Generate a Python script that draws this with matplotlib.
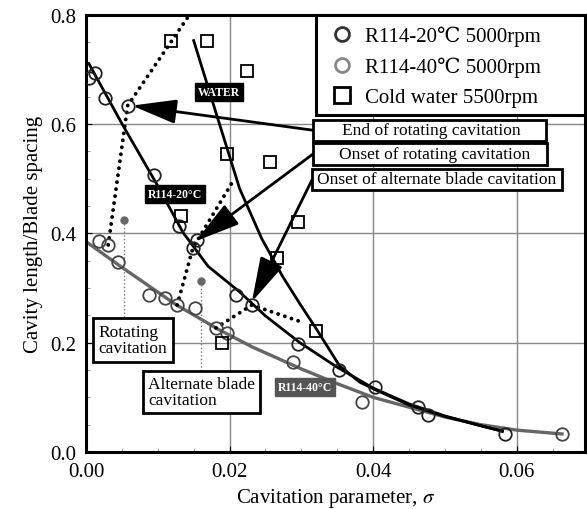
import matplotlib
matplotlib.use('Agg')
import matplotlib.pyplot as plt
from matplotlib.lines import Line2D
from matplotlib.patches import Rectangle
from matplotlib.ticker import MultipleLocator

plt.rcParams['font.family'] = ['Liberation Serif', 'DejaVu Serif', 'DejaVu Sans']
plt.rcParams['mathtext.fontset'] = 'stix'

# measured points
r20_sigma = [0.0004, 0.0013, 0.0026, 0.0058, 0.0095, 0.0129, 0.0149, 0.0154, 0.0209, 0.0231,
             0.0295, 0.0353, 0.0403, 0.0463, 0.0477, 0.0583]
r20_len = [0.685, 0.694, 0.648, 0.634, 0.507, 0.414, 0.374, 0.388, 0.288, 0.269,
           0.198, 0.150, 0.119, 0.082, 0.068, 0.033]

r40_sigma = [0.0018, 0.0031, 0.0045, 0.0088, 0.0110, 0.0127, 0.0152, 0.0181, 0.0197, 0.0289, 0.0384, 0.0663]
r40_len = [0.386, 0.379, 0.348, 0.288, 0.282, 0.269, 0.264, 0.227, 0.218, 0.165, 0.092, 0.033]

water_sigma = [0.0118, 0.0168, 0.0224, 0.0196, 0.0257, 0.0132, 0.0296, 0.0266, 0.0189, 0.0321]
water_len = [0.753, 0.753, 0.698, 0.546, 0.531, 0.432, 0.421, 0.355, 0.200, 0.222]

# fitted curves
r20_fit_sigma = [0.0004, 0.005, 0.010, 0.0135, 0.017, 0.0214, 0.025, 0.0298, 0.035, 0.040, 0.045, 0.050, 0.055, 0.058]
r20_fit_len = [0.711, 0.601, 0.487, 0.402, 0.340, 0.293, 0.249, 0.200, 0.155, 0.117, 0.088, 0.066, 0.048, 0.038]

water_fit_sigma = [0.0150, 0.0182, 0.0214, 0.0245, 0.0274, 0.0298, 0.0321, 0.0353, 0.0381, 0.0403, 0.045, 0.050, 0.055, 0.058]
water_fit_len = [0.753, 0.617, 0.482, 0.390, 0.321, 0.271, 0.225, 0.158, 0.128, 0.114, 0.086, 0.065, 0.048, 0.038]

r40_fit_sigma = [0.0, 0.005, 0.0125, 0.0185, 0.0232, 0.030, 0.035, 0.040, 0.045, 0.050, 0.055, 0.060, 0.0663]
r40_fit_len = [0.385, 0.338, 0.270, 0.224, 0.192, 0.152, 0.125, 0.100, 0.082, 0.064, 0.050, 0.040, 0.033]

# dotted transition lines
end_rot_sigma = [0.0031, 0.0058, 0.0143]
end_rot_len = [0.379, 0.634, 0.798]
onset_rot_sigma = [0.0127, 0.0149, 0.0204]
onset_rot_len = [0.269, 0.374, 0.494]
onset_alt_sigma = [0.0181, 0.0231, 0.0300]
onset_alt_len = [0.227, 0.269, 0.238]

legend_labels = ['R114-20℃ 5000rpm', 'R114-40℃ 5000rpm', 'Cold water 5500rpm']

fig = plt.figure(figsize=(5.87, 5.10), dpi=100)
ax = fig.add_axes([0.1465, 0.1118, 0.850, 0.857])

ax.set_xlim(0, 0.0695)
ax.set_ylim(0, 0.8)
ax.xaxis.set_major_locator(MultipleLocator(0.02))
ax.xaxis.set_minor_locator(MultipleLocator(0.005))
ax.yaxis.set_major_locator(MultipleLocator(0.2))
ax.yaxis.set_minor_locator(MultipleLocator(0.05))
ax.xaxis.set_major_formatter(plt.FormatStrFormatter('%.2f'))
ax.yaxis.set_major_formatter(plt.FormatStrFormatter('%.1f'))
ax.tick_params(which='both', direction='in', labelsize=15)
ax.tick_params(which='major', length=4)
ax.tick_params(axis='x', which='major', pad=7)
ax.tick_params(axis='y', which='major', pad=7)
ax.tick_params(which='minor', length=3, color='#888888')
ax.grid(True, which='major', color='#888888', lw=1)
ax.set_axisbelow(True)
for s in ax.spines.values():
    s.set_linewidth(2.2)

ax.set_xlabel('Cavitation parameter, $\\sigma$', fontsize=15, labelpad=4)
ax.set_ylabel('Cavity length/Blade spacing', fontsize=15, labelpad=5)

# curves
ax.plot(r40_fit_sigma, r40_fit_len, color='#666666', lw=2.4, zorder=2)
ax.plot(r20_fit_sigma, r20_fit_len, color='black', lw=2, zorder=2)
ax.plot(water_fit_sigma, water_fit_len, color='black', lw=2, zorder=2)

for xs, ys in [(end_rot_sigma, end_rot_len), (onset_rot_sigma, onset_rot_len), (onset_alt_sigma, onset_alt_len)]:
    ax.plot(xs, ys, color='black', lw=2.8, ls=(0, (0.01, 1.8)), dash_capstyle='round', zorder=2)

# markers
ax.plot(r20_sigma, r20_len, 'o', ms=9, mfc='none', mec='#222222', mew=1.3, zorder=3)
ax.plot(r40_sigma, r40_len, 'o', ms=9, mfc='none', mec='#444444', mew=1.3, zorder=3)
ax.plot(water_sigma, water_len, 's', ms=8, mfc='none', mec='black', mew=1.3, zorder=3)

# regime markers
ax.plot([0.0053, 0.0053], [0.425, 0.247], color='#777777', lw=1, ls=':', zorder=2)
ax.plot([0.0053], [0.425], 'o', ms=5, color='#666666', zorder=3)
ax.plot([0.0160, 0.0160], [0.313, 0.148], color='#777777', lw=1, ls=':', zorder=2)
ax.plot([0.0160], [0.313], 'o', ms=5, color='#666666', zorder=3)

ax.text(0.0065, 0.205, 'Rotating\ncavitation', fontsize=12.5, ha='center', va='center',
        linespacing=1.0, multialignment='left', zorder=5,
        bbox=dict(boxstyle='square,pad=0.32', fc='white', ec='black', lw=2))
ax.text(0.0161, 0.110, 'Alternate blade\ncavitation', fontsize=12.5, ha='center', va='center',
        linespacing=1.0, multialignment='left', zorder=5,
        bbox=dict(boxstyle='square,pad=0.3', fc='white', ec='black', lw=2))

# curve labels
ax.text(0.0185, 0.659, 'WATER', color='white', fontsize=8.5, fontweight='bold', ha='center', va='center',
        zorder=5, bbox=dict(boxstyle='square,pad=0.25', fc='black', ec='black'))
ax.text(0.0124, 0.4725, 'R114-20°C', color='white', fontsize=8.5, fontweight='bold', ha='center', va='center',
        zorder=5, bbox=dict(boxstyle='square,pad=0.25', fc='black', ec='black'))
ax.text(0.0305, 0.119, 'R114-40°C', color='white', fontsize=8.5, fontweight='bold', ha='center', va='center',
        zorder=5, bbox=dict(boxstyle='square,pad=0.25', fc='#555555', ec='#555555'))

# annotation boxes with arrows
arrow = dict(arrowstyle='-|>,head_length=2.2,head_width=0.6', color='black', lw=2,
             shrinkA=0, shrinkB=0, mutation_scale=12.5)
notes = [
    ('End of rotating cavitation', (0.0064, 0.634), (0.03166, 0.5696, 0.06402, 0.6081), 0.0481),
    ('Onset of rotating cavitation', (0.0153, 0.386), (0.03166, 0.5256, 0.06416, 0.5659), 0.0485),
    ('Onset of alternate blade cavitation', (0.0231, 0.275), (0.03152, 0.4799, 0.06625, 0.5183), 0.0488),
]
for label, tip, (x0, y0, x1, y1), xc in notes:
    ym = (y0 + y1) / 2
    ax.annotate('', xy=tip, xytext=(x0, ym), arrowprops=arrow, zorder=5)
    ax.add_patch(Rectangle((x0, y0), x1 - x0, y1 - y0, fc='white', ec='black', lw=2, zorder=6))
    ax.text(xc, ym, label, fontsize=12.5, ha='center', va='center', zorder=7)

# legend with its own frame
ax.add_patch(Rectangle((0.461, 0.771), 0.539, 0.229, transform=ax.transAxes,
                       fc='white', ec='black', lw=2.2, zorder=8, clip_on=False))
handles = [
    Line2D([], [], ls='none', marker='o', ms=10, mfc='none', mec='#333333', mew=2),
    Line2D([], [], ls='none', marker='o', ms=10, mfc='none', mec='#888888', mew=2),
    Line2D([], [], ls='none', marker='s', ms=11, mfc='none', mec='black', mew=2),
]
leg = ax.legend(handles, legend_labels, loc='upper left', bbox_to_anchor=(0.475, 0.99),
                borderaxespad=0, fontsize=15, frameon=False, handletextpad=0.5,
                labelspacing=0.5, handlelength=1.2, borderpad=0.3)
leg.set_zorder(9)

fig.savefig('out.png', dpi=100)
